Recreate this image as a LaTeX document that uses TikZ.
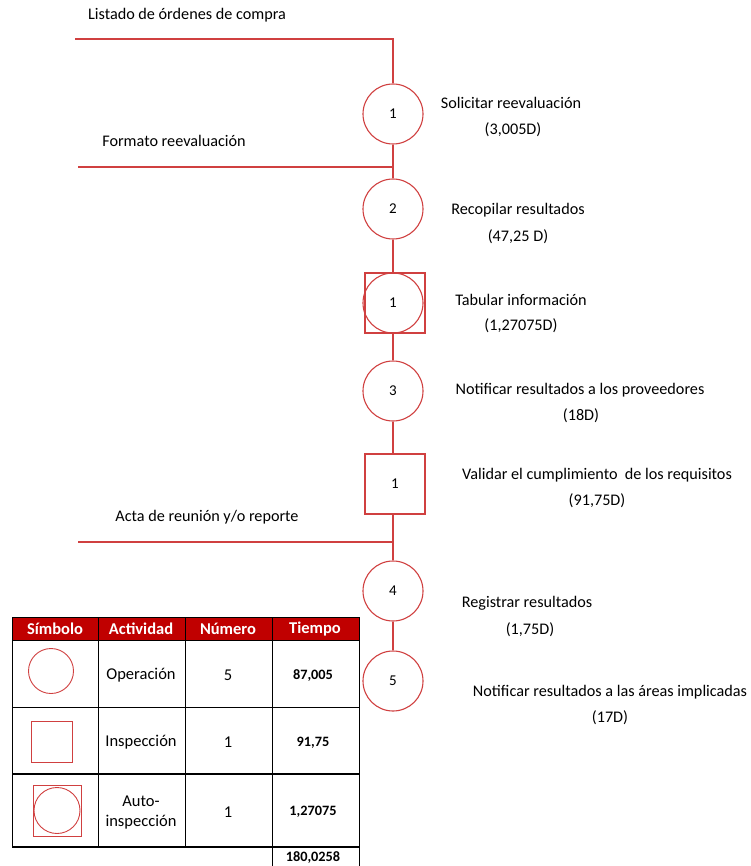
\documentclass[tikz,border=0pt]{standalone}
\usepackage{fontspec}
\setmainfont{Carlito}
\definecolor{flowred}{RGB}{208,64,64}
\definecolor{headred}{RGB}{192,0,0}
\begin{document}
\begin{tikzpicture}[x=1pt,y=-1pt,
  flow/.style={draw=flowred,line width=1.1pt},
  opcircle/.style={circle,draw=flowred,line width=1.1pt,minimum size=60pt,inner sep=0pt,font=\fontsize{15}{17}\selectfont},
  insquare/.style={rectangle,draw=flowred,line width=1.1pt,minimum size=60pt,inner sep=0pt,font=\fontsize{15}{17}\selectfont},
  lbl/.style={font=\fontsize{16.2}{19}\selectfont,inner sep=0pt,anchor=center},
  cell/.style={font=\fontsize{16.5}{20}\selectfont,inner sep=0pt,anchor=center,align=center},
  bnum/.style={font=\fontsize{14.3}{17}\selectfont\bfseries,inner sep=0pt,anchor=center},
  hdr/.style={font=\fontsize{16.5}{19}\selectfont\bfseries,text=white,inner sep=0pt,anchor=center},
  grid/.style={draw=black,line width=1pt}]
\useasboundingbox (0,0) rectangle (750,866);

% flow shapes
\node[opcircle] (c1) at (393,114) {1};
\node[opcircle] (c2) at (393,209) {2};
\node[insquare] (s1) at (395,303) {};
\node[opcircle] (s1c) at (393,303) {1};
\node[opcircle] (c3) at (393,391) {3};
\node[insquare] (q1) at (395,484) {1};
\node[opcircle] (c4) at (393,591) {4};
\node[opcircle] (c5) at (393,681) {5};

% input lines
\coordinate (in1) at (75,39);
\coordinate (k1) at (393,39);
\coordinate (in2) at (78,167);
\coordinate (k2) at (393,167);
\coordinate (in3) at (78,542);
\coordinate (k3) at (393,542);

\draw[flow] (in1) -- (k1) -- (c1.north);
\draw[flow] (c1.south) -- (c2.north);
\draw[flow] (in2) -- (k2);
\draw[flow] (c2.south) -- (s1c.north);
\draw[flow] (s1c.south) -- (c3.north);
\draw[flow] (c3.south) -- (c3.south |- q1.north);
\draw[flow] (c4.north |- q1.south) -- (c4.north);
\draw[flow] (in3) -- (k3);
\draw[flow] (c4.south) -- (c5.north);

% input labels
\node[lbl] (l1) at (187,15) {Listado de órdenes de compra};
\node[lbl] (l2) at (174,141) {Formato reevaluación};
\node[lbl] (l3) at (207,517) {Acta de reunión y/o reporte};

% activity labels
\node[lbl] (a1) at (511,103) {Solicitar reevaluación};
\node[lbl] (a1t) at (513,130) {(3,005D)};
\node[lbl] (a2) at (518,210) {Recopilar resultados};
\node[lbl] (a2t) at (518,237) {(47,25 D)};
\node[lbl] (a3) at (521,300) {Tabular información};
\node[lbl] (a3t) at (521,326) {(1,27075D)};
\node[lbl] (a4) at (580,390) {Notificar resultados a los proveedores};
\node[lbl] (a4t) at (581,416) {(18D)};
\node[lbl] (a5) at (597,475) {Validar el cumplimiento\ \ de los requisitos};
\node[lbl] (a5t) at (597,501) {(91,75D)};
\node[lbl] (a6) at (527,603) {Registrar resultados};
\node[lbl] (a6t) at (530,630) {(1,75D)};
\node[lbl] (a7) at (610,692) {Notificar resultados a las áreas implicadas};
\node[lbl] (a7t) at (610,718) {(17D)};

% table
\fill[headred] (12,617) rectangle (359,640);
\draw[grid] (12,617) rectangle (359,847);
\draw[grid] (98,617) -- (98,847);
\draw[grid] (185,617) -- (185,847);
\draw[grid] (272,617) -- (272,866);
\draw[grid] (359,847) -- (359,866);
\draw[grid] (12,640) -- (359,640);
\draw[grid] (12,707) -- (359,707);
\draw[grid,line width=1.5pt] (12,774) -- (359,774);
\draw[grid,line width=1.5pt] (12,847) -- (359,847);

\node[hdr] (h1) at (55,629) {Símbolo};
\node[hdr] (h2) at (141,629) {Actividad};
\node[hdr] (h3) at (228,629) {Número};
\node[hdr] (h4) at (315,629) {Tiempo};

\node[circle,draw=flowred,line width=0.9pt,minimum size=45pt,inner sep=0pt] (t1) at (51,671) {};
\node[rectangle,draw=flowred,line width=0.9pt,minimum size=41pt,inner sep=0pt] (t2) at (51.5,741.5) {};
\node[rectangle,draw=flowred,line width=0.9pt,minimum width=48pt,minimum height=51pt,inner sep=0pt] (t3) at (57,810.5) {};
\node[circle,draw=flowred,line width=0.9pt,minimum size=46pt,inner sep=0pt] (t3c) at (57,810.5) {};

\node[cell] (r1a) at (141,675) {Operación};
\node[cell] (r1b) at (228,675) {5};
\node[bnum] (r1c) at (313,676) {87,005};
\node[cell] (r2a) at (141,742) {Inspección};
\node[cell] (r2b) at (228,742) {1};
\node[bnum] (r2c) at (313,743) {91,75};
\node[cell] (r3a) at (141,813) {Auto-\\inspección};
\node[cell] (r3b) at (228,812) {1};
\node[bnum] (r3c) at (313,812) {1,27075};
\node[bnum] (tot) at (313,858) {180,0258};
\end{tikzpicture}
\end{document}
